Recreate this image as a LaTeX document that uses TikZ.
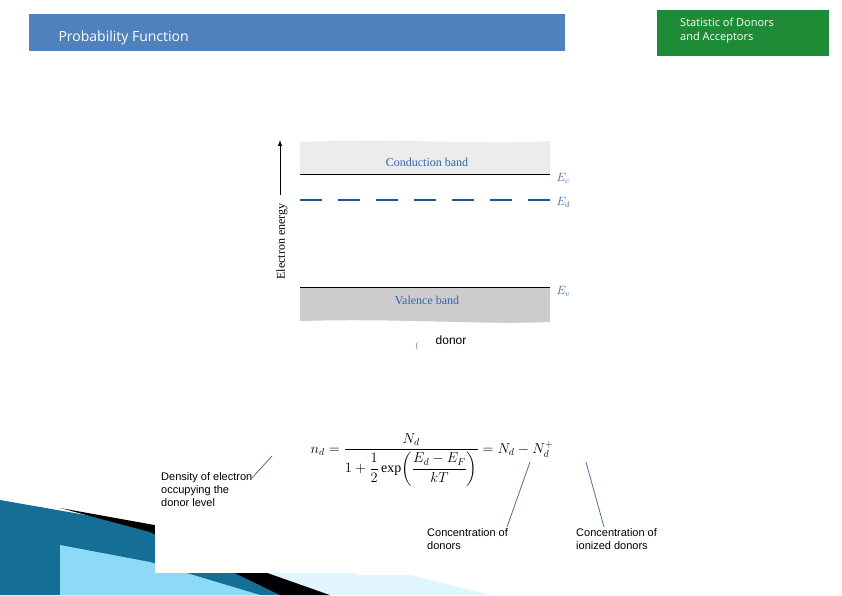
\documentclass[tikz,border=0pt]{standalone}
\usepackage{amsmath}
\usepackage{fontspec}
\setmainfont{Liberation Serif}
\newfontfamily\lsans{Liberation Sans}
\newfontfamily\osans{Open Sans}
\definecolor{titleblue}{RGB}{79,129,189}
\definecolor{statgreen}{RGB}{30,140,55}
\definecolor{bandblue}{RGB}{50,100,170}
\definecolor{dashblue}{RGB}{30,85,150}
\definecolor{decoblue}{RGB}{20,110,150}
\definecolor{pointcol}{RGB}{80,110,150}
\begin{document}
\begin{tikzpicture}[x=1pt,y=-1pt,
 lbl/.style={font=\lsans\fontsize{11}{13}\selectfont,align=left,anchor=north west,inner sep=0},
 pointer/.style={draw=pointcol,line width=0.8pt},
 bandtxt/.style={text=bandblue,font=\fontsize{12}{14}\selectfont}]
\useasboundingbox (0,0) rectangle (842,595);
\fill[white] (0,0) rectangle (842,595);
% decoration bottom left
\fill[decoblue] (0,500) -- (160,528) -- (330,595) -- (0,595) -- cycle;
\fill[cyan!45!white] (60,545) -- (150,562) -- (260,595) -- (60,595) -- cycle;
\fill[black] (60,508) -- (160,526) -- (330,580) -- (330,595) -- (280,595) -- (150,532) -- cycle;
\fill[cyan!12!white] (160,522) -- (360,575) -- (410,575) -- (490,595) -- (330,595) -- (160,535) -- cycle;
\fill[white] (155,400) rectangle (430,573);
% headers
\fill[titleblue] (29,14) rectangle (565,51);
\node[anchor=west,text=white,font=\osans\fontsize{14}{16}\selectfont] (title) at (55,38) {Probability Function};
\fill[statgreen] (657,10) rectangle (829,56);
\node[anchor=north west,text=white,align=left,font=\osans\fontsize{11}{14}\selectfont,inner sep=0] (stat) at (680,18) {Statistic of Donors\\and Acceptors};
% bands
\fill[gray!15] (300,142) .. controls (400,138) and (480,145) .. (550,141) -- (550,174) -- (300,174) -- cycle;
\fill[gray!40] (300,287) -- (550,287) -- (550,322) .. controls (480,325) and (400,318) .. (300,321) -- cycle;
\draw[line width=1pt] (300,174) -- (550,174);
\draw[line width=1pt] (300,287) -- (550,287);
\draw[line width=2.2pt,dash pattern=on 22pt off 16pt,dashblue] (300,200) -- (550,200);
\node[bandtxt] (cb) at (427,162) {Conduction band};
\node[bandtxt] (vb) at (427,300) {Valence band};
\node[bandtxt,anchor=west] (ec) at (553,178) {$E_c$};
\node[bandtxt,anchor=west] (ed) at (553,202) {$E_d$};
\node[bandtxt,anchor=west] (ev) at (553,291) {$E_v$};
\coordinate (ab) at (280,195);
\coordinate (at) at (280,140);
\draw[-latex,line width=1pt] (ab) -- (at);
\node[rotate=90,anchor=east,font=\fontsize{12}{14}\selectfont] (ee) at (282,200) {Electron energy};
\node[text=gray,font=\fontsize{9}{10}\selectfont] (par) at (417,346) {(};
\node[font=\lsans\fontsize{12}{14}\selectfont] (donor) at (451,340) {donor};
% equation
\node[font=\fontsize{14}{16}\selectfont] (eq) at (432,460) {$\displaystyle n_d=\frac{N_d}{1+\dfrac{1}{2}\exp\!\left(\dfrac{E_d-E_F}{kT}\right)}=N_d-N_d^{+}$};
\node[lbl] (l1) at (161,472) {Density of electron\\occupying the\\donor level};
\node[lbl] (l2) at (427,528) {Concentration of\\donors};
\node[lbl] (l3) at (576,528) {Concentration of\\ionized donors};
\coordinate (p1) at (272,456);
\coordinate (p2) at (530,462);
\coordinate (p3) at (586,462);
\coordinate (q1) at (252,478);
\coordinate (q2) at (507,527);
\coordinate (q3) at (604,527);
\draw[pointer] (p1) -- (q1);
\draw[pointer] (p2) -- (q2);
\draw[pointer] (p3) -- (q3);
\end{tikzpicture}
\end{document}
